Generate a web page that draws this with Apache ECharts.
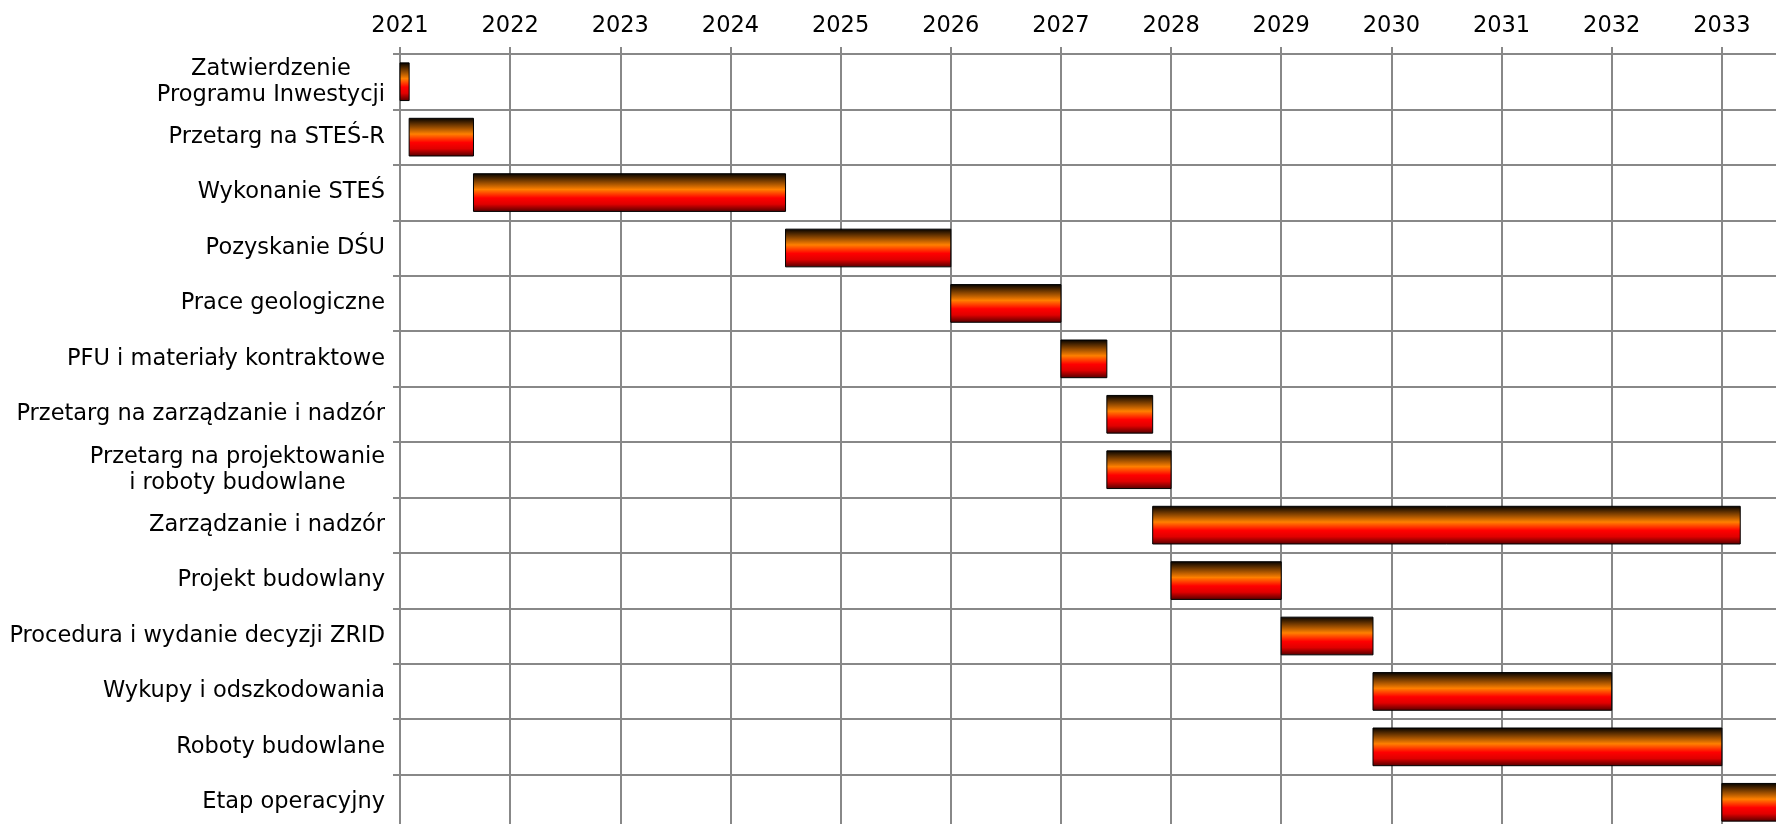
<!DOCTYPE html>
<html>
<head>
<meta charset="utf-8">
<script src="https://cdn.jsdelivr.net/npm/echarts@6/dist/echarts.min.js"></script>
<style>
html,body{margin:0;padding:0;background:#fff;overflow:hidden;width:1776px;height:824px;}
#chart{width:1835px;height:830px;}
</style>
</head>
<body>
<div id="chart"></div>
<script>
const tasks = [
  'Zatwierdzenie\nProgramu Inwestycji',
  'Przetarg na STEŚ-R',
  'Wykonanie STEŚ',
  'Pozyskanie DŚU',
  'Prace geologiczne',
  'PFU i materiały kontraktowe',
  'Przetarg na zarządzanie i nadzór',
  'Przetarg na projektowanie\ni roboty budowlane',
  'Zarządzanie i nadzór',
  'Projekt budowlany',
  'Procedura i wydanie decyzji ZRID',
  'Wykupy i odszkodowania',
  'Roboty budowlane',
  'Etap operacyjny'
];
const starts = [2021.0, 2021.083, 2021.667, 2024.5, 2026.0, 2027.0, 2027.417, 2027.417, 2027.833, 2028.0, 2029.0, 2029.833, 2029.833, 2033.0];
const ends   = [2021.083, 2021.667, 2024.5, 2026.0, 2027.0, 2027.417, 2027.833, 2028.0, 2033.167, 2029.0, 2029.833, 2032.0, 2033.0, 2034.0];
const yearTicks = [2021, 2022, 2023, 2024, 2025, 2026, 2027, 2028, 2029, 2030, 2031, 2032, 2033];

const data = tasks.map((t, i) => [i, starts[i], ends[i]]);
const gridColor = '#888888';
const font = 'DejaVu Sans, Verdana, sans-serif';
const fs = 22.5;

const chart = echarts.init(document.getElementById('chart'), null, {renderer: 'canvas'});
chart.setOption({
  animation: false,
  backgroundColor: '#ffffff',
  grid: {left: 400, top: 54, right: 0, bottom: 0, containLabel: false},
  xAxis: {
    type: 'value',
    position: 'top',
    min: yearTicks[0],
    max: 2034,
    interval: 1,
    axisLine: {show: true, lineStyle: {color: gridColor, width: 2}},
    axisTick: {show: true, length: 7, lineStyle: {color: gridColor, width: 2}},
    splitLine: {show: true, lineStyle: {color: gridColor, width: 2}},
    axisLabel: {
      color: '#000', fontFamily: font, fontSize: fs, margin: 16,
      formatter: v => (yearTicks.indexOf(v) >= 0 ? String(v) : '')
    }
  },
  yAxis: {
    type: 'category',
    inverse: true,
    data: tasks,
    axisLine: {show: true, lineStyle: {color: gridColor, width: 2}},
    axisTick: {show: true, length: 7, lineStyle: {color: gridColor, width: 2}},
    splitLine: {show: true, lineStyle: {color: gridColor, width: 2}},
    axisLabel: {
      color: '#000', fontFamily: font, fontSize: fs, margin: 15, align: 'right', lineHeight: 26,
      formatter: v => v.indexOf('\n') >= 0 ? v.split('\n').map(s => '{c|' + s + '}').join('\n') : v,
      rich: {c: {align: 'center', color: '#000', fontFamily: font, fontSize: fs, lineHeight: 26}}
    }
  },
  series: [{
    type: 'custom',
    encode: {x: [1, 2], y: 0},
    data: data,
    renderItem: function (params, api) {
      const cat = api.value(0);
      const p0 = api.coord([api.value(1), cat]);
      const p1 = api.coord([api.value(2), cat]);
      const h = api.size([0, 1])[1] * 0.68;
      const shape = echarts.graphic.clipRectByRect(
        {x: p0[0], y: p0[1] - h / 2, width: p1[0] - p0[0], height: h},
        {x: params.coordSys.x, y: params.coordSys.y, width: params.coordSys.width, height: params.coordSys.height}
      );
      return shape && {
        type: 'rect',
        shape: shape,
        style: {
          fill: new echarts.graphic.LinearGradient(0, 0, 0, 1, [
            {offset: 0, color: '#000000'},
            {offset: 0.42, color: '#ff8000'},
            {offset: 0.64, color: '#ff0000'},
            {offset: 0.8, color: '#e00000'},
            {offset: 1, color: '#500000'}
          ]),
          stroke: '#000000',
          lineWidth: 1
        }
      };
    }
  }]
});
</script>
</body>
</html>
